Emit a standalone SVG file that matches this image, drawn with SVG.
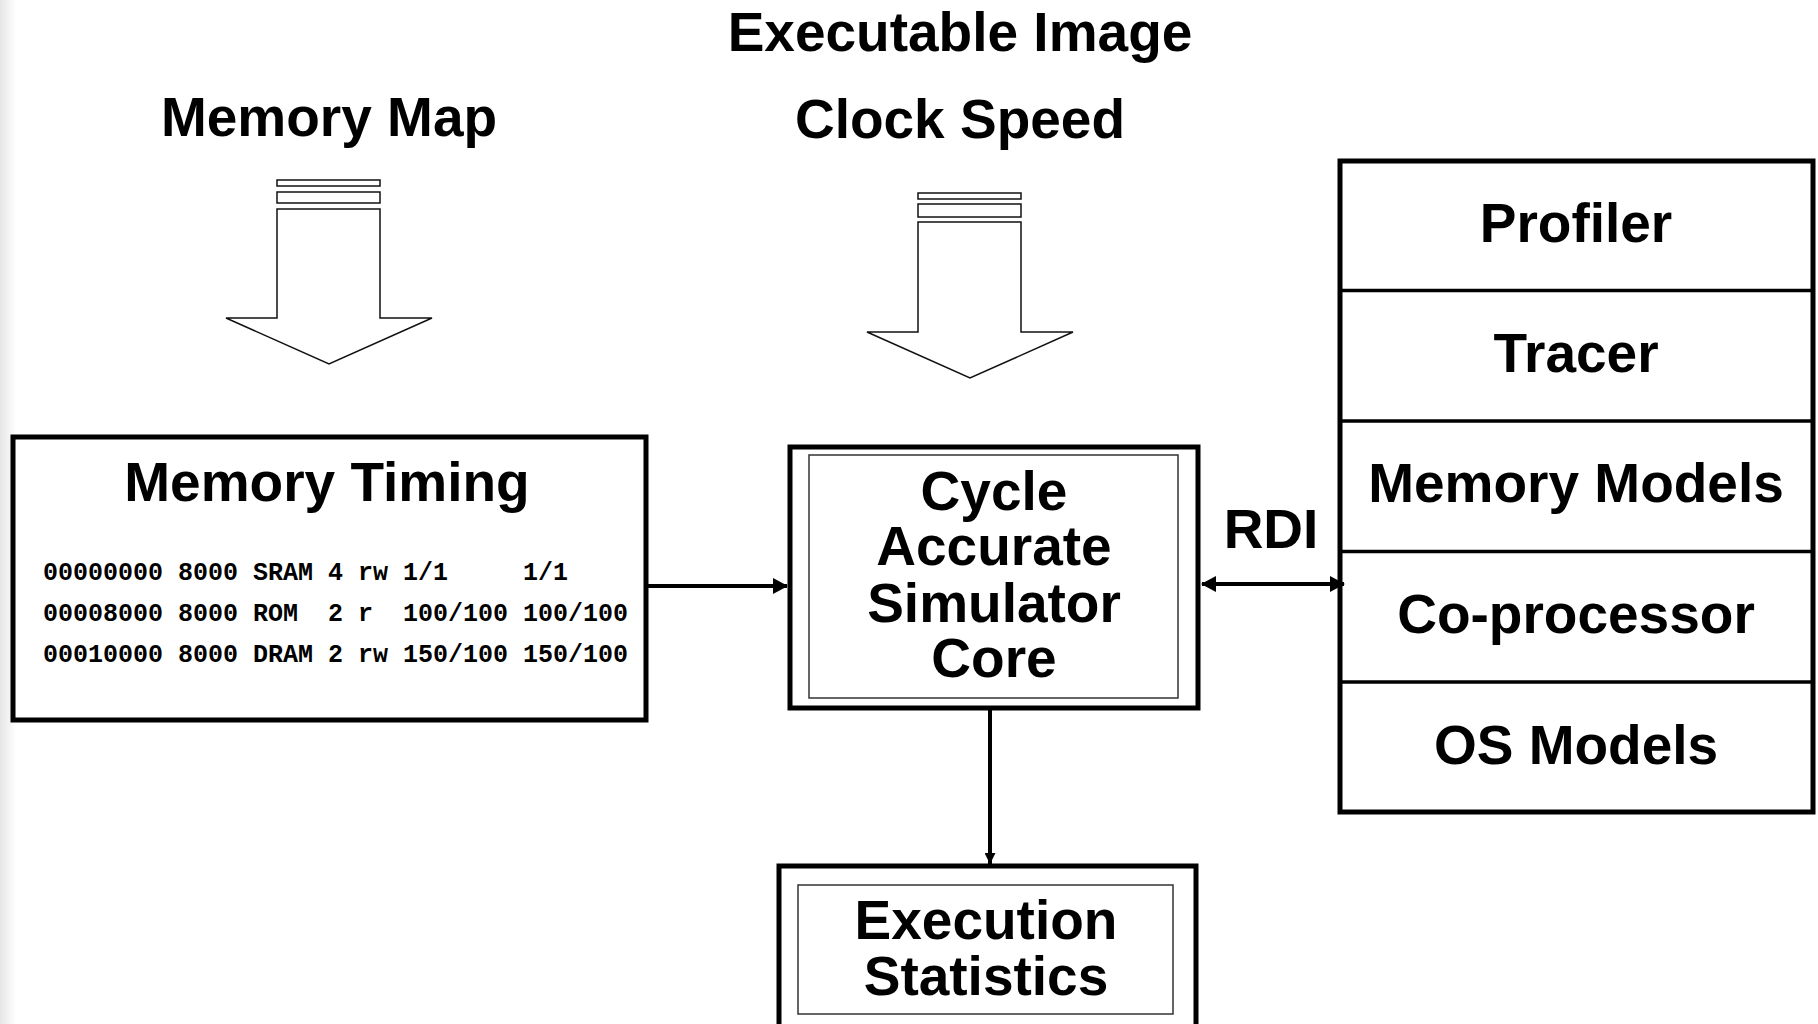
<svg xmlns="http://www.w3.org/2000/svg" width="1818" height="1024" viewBox="0 0 1818 1024">
  <style>
    .t { font-family: "Liberation Sans", Arial, Helvetica, sans-serif; font-weight: bold; font-size: 55px; fill: #000; text-anchor: middle; }
    .mono { font-family: "Liberation Mono", "Courier New", monospace; font-weight: bold; font-size: 25px; fill: #000; white-space: pre; }
    .box { fill: #fff; stroke: #000; stroke-width: 5; }
    .inner { fill: none; stroke: #333; stroke-width: 1.5; }
    .blk { fill: #fff; stroke: #111; stroke-width: 1.5; }
    .conn { fill: none; stroke: #000; stroke-width: 4; }
    .div { stroke: #000; stroke-width: 3.5; }
  </style>
  <defs>
    <linearGradient id="edge" x1="0" y1="0" x2="1" y2="0">
      <stop offset="0" stop-color="#e6e6e6"/>
      <stop offset="1" stop-color="#ffffff"/>
    </linearGradient>
    <marker id="ah" markerUnits="userSpaceOnUse" markerWidth="15" markerHeight="16" refX="14" refY="8" orient="auto-start-reverse">
      <path d="M0,0 L15,8 L0,16 z" fill="#000"/>
    </marker>
    <marker id="ahs" markerUnits="userSpaceOnUse" markerWidth="11" markerHeight="11" refX="11" refY="5.5" orient="auto">
      <path d="M0,0 L11,5.5 L0,11 z" fill="#000"/>
    </marker>
  </defs>
  <rect x="0" y="0" width="1818" height="1024" fill="#fff"/>
  <rect x="0" y="0" width="16" height="1024" fill="url(#edge)"/>

  <g id="labels-top">
    <text class="t" x="960" y="51">Executable Image</text>
    <text class="t" x="960" y="138">Clock Speed</text>
    <text class="t" x="329" y="136">Memory Map</text>
  </g>

  <g id="arrow-memory-map">
    <rect class="blk" x="277" y="180" width="103" height="6"/>
    <rect class="blk" x="277" y="192" width="103" height="11"/>
    <polygon class="blk" points="277,209 380,209 380,318 432,318 329,364 226,318 277,318"/>
  </g>

  <g id="arrow-clock-speed">
    <rect class="blk" x="918" y="193" width="103" height="6"/>
    <rect class="blk" x="918" y="204" width="103" height="13"/>
    <polygon class="blk" points="918,222 1021,222 1021,332 1073,332 970,378 867,332 918,332"/>
  </g>

  <g id="memory-timing">
    <rect class="box" x="13" y="437" width="633" height="283"/>
    <text class="t" x="327" y="501">Memory Timing</text>
    <text class="mono" x="43" y="580">00000000 8000 SRAM 4 rw 1/1     1/1</text>
    <text class="mono" x="43" y="621">00008000 8000 ROM  2 r  100/100 100/100</text>
    <text class="mono" x="43" y="662">00010000 8000 DRAM 2 rw 150/100 150/100</text>
  </g>

  <g id="simulator-core">
    <rect class="box" x="790" y="447" width="408" height="261"/>
    <rect class="inner" x="809" y="455" width="369" height="243"/>
    <text class="t" x="994" y="510">Cycle</text>
    <text class="t" x="994" y="565">Accurate</text>
    <text class="t" x="994" y="622">Simulator</text>
    <text class="t" x="994" y="677">Core</text>
  </g>

  <g id="rdi-label">
    <text class="t" x="1271" y="548">RDI</text>
  </g>

  <g id="extensions">
    <rect class="box" x="1340" y="161" width="473" height="651"/>
    <line class="div" x1="1340" y1="290.5" x2="1813" y2="290.5"/>
    <line class="div" x1="1340" y1="421" x2="1813" y2="421"/>
    <line class="div" x1="1340" y1="551.5" x2="1813" y2="551.5"/>
    <line class="div" x1="1340" y1="682" x2="1813" y2="682"/>
    <text class="t" x="1576" y="242">Profiler</text>
    <text class="t" x="1576" y="372">Tracer</text>
    <text class="t" x="1576" y="502">Memory Models</text>
    <text class="t" x="1576" y="633">Co-processor</text>
    <text class="t" x="1576" y="764">OS Models</text>
  </g>

  <g id="execution-statistics">
    <rect class="box" x="779" y="866" width="417" height="180"/>
    <rect class="inner" x="798" y="885" width="375" height="129"/>
    <text class="t" x="986" y="939">Execution</text>
    <text class="t" x="986" y="995">Statistics</text>
  </g>

  <g id="connectors">
    <line class="conn" x1="648" y1="586" x2="787" y2="586" marker-end="url(#ah)"/>
    <line class="conn" x1="1202" y1="584" x2="1344" y2="584" marker-start="url(#ah)" marker-end="url(#ah)"/>
    <line class="conn" x1="990" y1="710" x2="990" y2="864" marker-end="url(#ahs)"/>
  </g>
</svg>
